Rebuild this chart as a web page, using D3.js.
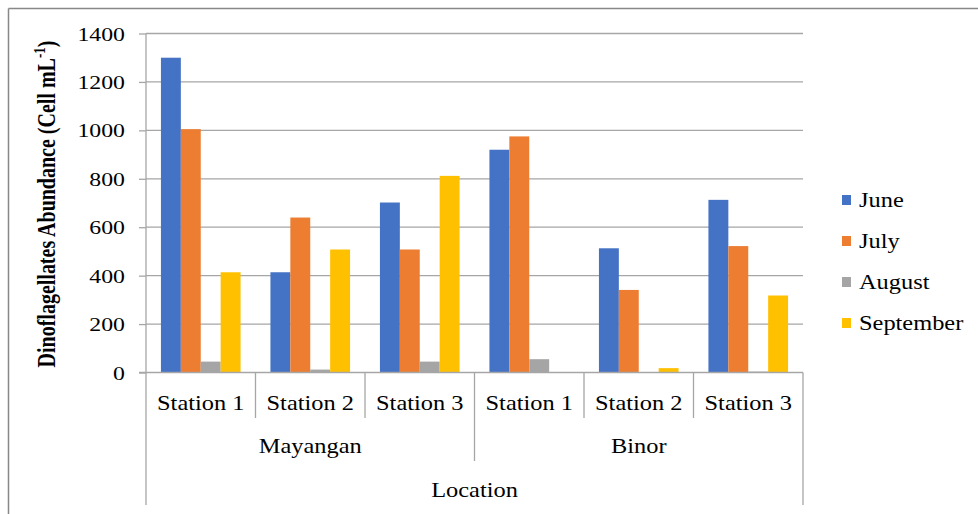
<!DOCTYPE html>
<html>
<head>
<meta charset="utf-8">
<script src="https://cdn.jsdelivr.net/npm/d3@7"></script>
<style>
  html, body { margin: 0; padding: 0; background: #fff; }
  svg text { font-family: "Liberation Serif", "Times New Roman", serif; fill: #000; }
</style>
</head>
<body>
<svg id="chart" width="978" height="514"></svg>
<script>
// Dinoflagellate abundance by station, location and month
const locations = ["Mayangan", "Binor"];
const stations = ["Station 1", "Station 2", "Station 3"];
const months = ["June", "July", "August", "September"];
const june      = [1300, 414, 702, 920, 513, 713];
const july      = [1005, 640, 508, 975, 341, 522];
const august    = [45, 12, 45, 55, 0, 4];
const september = [414, 508, 812, 0, 18, 318];
const yTicks = [0, 200, 400, 600, 800, 1000, 1200, 1400];
const colors = ["#4472C4", "#ED7D31", "#A5A5A5", "#FFC000"];

const series = [june, july, august, september];
const categories = [];
locations.forEach(loc => stations.forEach(st => categories.push({ loc, st, key: loc + "|" + st })));

const SERIF = '"Liberation Serif", "Times New Roman", serif';
const WIDEN = 1.22;          // horizontal stretch applied to the label glyphs
const GRID = "#a6a6a6";

const svg = d3.select("#chart");
const plot = { left: 146, right: 803, top: 33.5, bottom: 372.5 };

// place a horizontally widened label anchored at (x, y)
function label(parent, x, y, txt, size, anchor) {
  return parent.append("text")
    .attr("transform", `translate(${x},${y}) scale(${WIDEN},1)`)
    .attr("text-anchor", anchor || "middle")
    .style("font-family", SERIF)
    .style("font-size", size + "px")
    .text(txt);
}

// chart frame
svg.append("line").attr("x1", 8.5).attr("x2", 978).attr("y1", 8.5).attr("y2", 8.5)
  .attr("stroke", "#888").attr("stroke-width", 1.5);
svg.append("line").attr("x1", 8.5).attr("x2", 8.5).attr("y1", 8.5).attr("y2", 514)
  .attr("stroke", "#888").attr("stroke-width", 1.5);

const y = d3.scaleLinear().domain([0, 1400]).range([plot.bottom, plot.top]);
const x0 = d3.scaleBand().domain(categories.map(d => d.key)).range([plot.left, plot.right]);
const bw = x0.bandwidth();
// four bars per group with a 150% gap between groups
const barW = bw / (months.length + 1.5);
const x1 = d3.scaleBand().domain(months).range([0.75 * barW, bw - 0.75 * barW]).padding(0);

// gridlines
svg.append("g").selectAll("line").data(yTicks.filter(t => t > 0)).join("line")
  .attr("x1", plot.left).attr("x2", plot.right)
  .attr("y1", d => y(d)).attr("y2", d => y(d))
  .attr("stroke", GRID).attr("stroke-width", 1.3);

// y-axis
const yAxis = d3.axisLeft(y).tickValues(yTicks).tickSize(7).tickFormat(d3.format("d"));
const gy = svg.append("g").attr("transform", `translate(${plot.left},0)`).call(yAxis);
gy.select(".domain").attr("stroke", GRID).attr("stroke-width", 1.3).attr("d", `M0,${plot.top}V${plot.bottom}`);
gy.selectAll(".tick line").attr("stroke", GRID).attr("stroke-width", 1.3);
gy.selectAll(".tick text")
  .attr("x", null).attr("dy", "0.34em")
  .attr("transform", `translate(-21,0) scale(${WIDEN},1)`)
  .style("font-family", SERIF).style("font-size", "19.5px").attr("fill", "#000");

// bars
const g = svg.append("g");
categories.forEach((c, i) => {
  months.forEach((m, j) => {
    const v = series[j][i];
    if (v <= 0) return;
    g.append("rect")
      .attr("x", x0(c.key) + x1(m))
      .attr("y", y(v))
      .attr("width", x1.bandwidth())
      .attr("height", y(0) - y(v))
      .attr("fill", colors[j]);
  });
});

// x-axis baseline
svg.append("line").attr("x1", plot.left - 7).attr("x2", plot.right)
  .attr("y1", y(0)).attr("y2", y(0)).attr("stroke", GRID).attr("stroke-width", 1.3);

// multi-level category axis
const axisG = svg.append("g");
const stationDividerBottom = 418, locDividerBottom = 461, outerBottom = 505;
categories.forEach((c, i) => {
  const xl = x0(c.key);
  label(axisG, xl + bw / 2, 410, c.st, 20);
  if (i > 0) {
    const isLocBoundary = i % stations.length === 0;
    axisG.append("line").attr("x1", xl).attr("x2", xl)
      .attr("y1", y(0)).attr("y2", isLocBoundary ? locDividerBottom : stationDividerBottom)
      .attr("stroke", GRID).attr("stroke-width", 1.3);
  }
});
[plot.left, plot.right].forEach(xv => {
  axisG.append("line").attr("x1", xv).attr("x2", xv).attr("y1", y(0)).attr("y2", outerBottom)
    .attr("stroke", GRID).attr("stroke-width", 1.3);
});
locations.forEach(loc => {
  const first = x0(loc + "|" + stations[0]);
  const last = x0(loc + "|" + stations[stations.length - 1]) + bw;
  label(axisG, (first + last) / 2, 453, loc, 20);
});
label(axisG, (plot.left + plot.right) / 2, 497, "Location", 20);

// y-axis title
const yt = svg.append("text")
  .attr("transform", `translate(55,${(plot.top + plot.bottom) / 2 + 1}) rotate(-90) scale(1,${WIDEN})`)
  .attr("text-anchor", "middle")
  .style("font-family", SERIF)
  .style("font-size", "20px").style("font-weight", "bold");
yt.append("tspan").text("Dinoflagellates Abundance (Cell mL");
yt.append("tspan").attr("dy", -8).style("font-size", "13px").text("-1");
yt.append("tspan").attr("dy", 8).text(")");

// legend
const legend = svg.append("g");
months.forEach((m, j) => {
  const ly = 200 + j * 41;
  legend.append("rect").attr("x", 842).attr("y", ly - 5).attr("width", 9).attr("height", 10).attr("fill", colors[j]);
  label(legend, 859, ly + 7, m, 20, "start");
});
</script>
</body>
</html>
